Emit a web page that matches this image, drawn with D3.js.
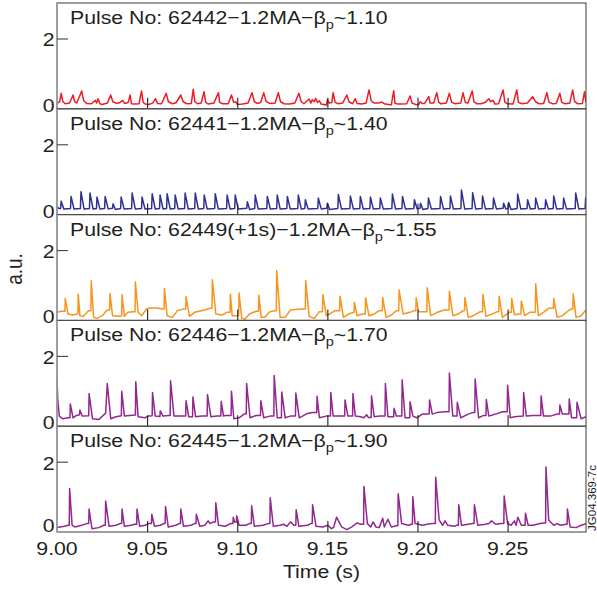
<!DOCTYPE html>
<html><head><meta charset="utf-8">
<script src="https://cdn.jsdelivr.net/npm/d3@7"></script>
<style>
body{margin:0;background:#fff}
svg{display:block}
text{font-family:"Liberation Sans",Arial,Helvetica,sans-serif;fill:#231f20}
</style>
</head><body><svg id="c" width="597" height="590"></svg>
<script>
// ---- data (time in ms after 9.00 s, signal in a.u.) ----
const pulseNames = ["62442","62441","62449(+1s)","62446","62445"];
const betaValues = ["1.10","1.40","1.55","1.70","1.90"];
const xTickValues = [9.00,9.05,9.10,9.15,9.20,9.25];
const yTickValues = [0,2];
const lineColors = ["#ed1c24","#2e3192","#f7941d","#92278f","#92278f"];

const pulse62442 = [[0,0.08],[1.5,0.12],[2.3,0.37],[3.3,0.12],[4.5,0.06],[7,0.08],[8.9,0.32],[9.8,0.12],[11,0.08],[13.7,0.44],[14.8,0.15],[16.5,0.07],[19,0.06],[21.3,0.16],[22,0.08],[22.8,0.21],[23.8,0.06],[25,0.04],[28,0.08],[29.8,0.32],[31,0.12],[33,0.07],[35,0.1],[36.4,0.16],[37.5,0.07],[39.5,0.1],[40.6,0.32],[41.3,0.06],[43,0.05],[45.5,0.06],[46.9,0.44],[47.8,0.1],[49,0.05],[51,0.04],[53,0.08],[54.7,0.21],[55.8,0.07],[58,0.06],[60.6,0.37],[61.8,0.12],[64,0.06],[66,0.09],[68.7,0.32],[70,0.12],[72,0.06],[74.5,0.07],[75.6,0.49],[76.5,0.12],[78,0.06],[80,0.08],[81.6,0.42],[82.5,0.1],[84,0.05],[87,0.08],[89.6,0.39],[90.2,0.1],[92,0.06],[95,0.06],[96.8,0.32],[98,0.1],[99.1,0.12],[100,0.04],[103,0.05],[106,0.08],[108.2,0.39],[109.5,0.12],[111,0.07],[113,0.1],[114.7,0.39],[116,0.13],[118,0.07],[121,0.08],[122.8,0.39],[124,0.12],[126,0.06],[129,0.05],[132,0.08],[134.2,0.37],[135.5,0.12],[137,0.06],[139.9,0.2],[140.8,0.08],[141.6,0.18],[142.7,0.12],[143.5,0.22],[144.5,0.1],[145.6,0.15],[146.5,0.05],[148,0.04],[149.5,0.02],[150,0.18],[151,0.08],[152.5,0.1],[153.2,0.39],[154.3,0.1],[156,0.06],[158.5,0.08],[160.8,0.32],[162,0.12],[164,0.06],[165.5,0.21],[166.5,0.07],[169,0.05],[171.5,0.08],[173.1,0.47],[174.3,0.15],[176,0.08],[178.5,0.08],[180.3,0.11],[181.5,0.06],[184,0.04],[185.5,0.03],[186.8,0.45],[187.5,0.08],[189,0.05],[191,0.05],[194,0.06],[195.9,0.29],[197,0.08],[199,0.04],[200.5,0.03],[201.6,0.12],[202.5,0.07],[204,0.07],[206.3,0.27],[207,0.08],[209,0.08],[210.7,0.39],[211.8,0.1],[213,0.06],[216,0.08],[217.7,0.37],[219,0.1],[221,0.06],[224,0.08],[225.3,0.39],[226.5,0.1],[228,0.08],[230.4,0.44],[231.3,0.12],[233,0.06],[235,0.06],[237.5,0.1],[239.6,0.21],[240.5,0.12],[242,0.16],[243,0.05],[245,0.06],[247.5,0.47],[248.5,0.1],[250,0.06],[253,0.05],[255.1,0.47],[256,0.1],[258,0.06],[261,0.08],[263.9,0.27],[265.5,0.12],[267.5,0.06],[270,0.07],[271.8,0.39],[273,0.1],[275,0.06],[277,0.07],[279,0.37],[280,0.1],[282,0.06],[284.5,0.08],[286.1,0.47],[287.2,0.12],[289,0.06],[291.5,0.07],[292.7,0.42],[293.5,0.1]];

const pulse62441 = [[0,0.15],[1.0,0.09],[2.0,0.09],[2.3,0.31],[3.8,0.08],[7.5,0.09],[7.8,0.45],[9.4,0.08],[13.0,0.09],[13.3,0.59],[15.0,0.08],[18.0,0.09],[18.3,0.55],[20.0,0.08],[21.9,0.09],[22.2,0.43],[23.8,0.08],[26.4,0.09],[26.7,0.45],[28.4,0.08],[30.8,0.1],[31.1,0.23],[32.4,0.06],[35.3,0.09],[35.6,0.43],[37.2,0.08],[41.4,0.09],[41.7,0.55],[43.4,0.08],[46.9,0.09],[47.2,0.43],[48.8,0.08],[52.5,0.09],[52.8,0.53],[54.5,0.08],[56.9,0.09],[57.2,0.49],[58.8,0.08],[60.8,0.09],[61.1,0.53],[62.8,0.08],[65.3,0.09],[65.6,0.49],[67.2,0.08],[70.8,0.09],[71.1,0.55],[72.8,0.08],[76.4,0.09],[76.7,0.55],[78.4,0.08],[81.4,0.09],[81.7,0.49],[83.3,0.08],[87.5,0.09],[87.8,0.53],[89.5,0.08],[94.1,0.09],[94.4,0.49],[96.0,0.08],[98.6,0.09],[98.9,0.49],[100.5,0.08],[105.3,0.1],[105.6,0.29],[106.9,0.06],[109.7,0.09],[110.0,0.49],[111.6,0.08],[116.4,0.09],[116.7,0.45],[118.3,0.08],[121.9,0.09],[122.2,0.49],[123.8,0.08],[127.5,0.09],[127.8,0.45],[129.4,0.08],[133.6,0.09],[133.9,0.49],[135.5,0.08],[137.5,0.09],[137.8,0.35],[139.3,0.08],[144.7,0.09],[145.0,0.40],[146.6,0.08],[149.7,0.1],[150.0,0.25],[151.3,0.06],[155.8,0.09],[156.1,0.51],[157.8,0.08],[162.5,0.09],[162.8,0.46],[164.4,0.08],[168.0,0.09],[168.3,0.45],[169.9,0.08],[173.6,0.09],[173.9,0.43],[175.5,0.08],[179.1,0.09],[179.4,0.40],[181.0,0.08],[185.8,0.09],[186.1,0.52],[187.8,0.08],[191.4,0.09],[191.7,0.45],[193.3,0.08],[198.0,0.09],[198.3,0.35],[199.8,0.08],[201.4,0.1],[201.7,0.25],[203.0,0.06],[205.8,0.09],[206.1,0.40],[207.7,0.08],[212.5,0.09],[212.8,0.45],[214.4,0.08],[218.0,0.09],[218.3,0.46],[219.9,0.08],[224.1,0.09],[224.4,0.64],[226.2,0.08],[230.3,0.09],[230.6,0.56],[232.3,0.08],[235.8,0.09],[236.1,0.46],[237.7,0.08],[241.9,0.09],[242.2,0.40],[243.8,0.08],[247.5,0.1],[247.8,0.25],[249.0,0.08],[250.3,0.09],[250.6,0.27],[251.9,0.06],[255.3,0.09],[255.6,0.52],[257.3,0.08],[260.8,0.09],[261.1,0.35],[262.6,0.08],[265.3,0.09],[265.6,0.40],[267.2,0.08],[270.8,0.09],[271.1,0.35],[272.6,0.08],[275.3,0.09],[275.6,0.46],[277.2,0.08],[280.8,0.09],[281.1,0.40],[282.7,0.08],[287.5,0.09],[287.8,0.55],[289.5,0.08],[293.0,0.09],[293.3,0.40],[293.6,0.3]];

const pulse62449 = [[0,0.15],[2.3,0.18],[4.4,0.18],[4.6,0.56],[6.1,0.10],[8.9,0.07],[11.6,0.1],[11.8,0.69],[12.7,0.05],[14.6,0.03],[17.5,0.20],[18.8,0.2],[19.0,1.09],[20.3,0.0],[22.2,-0.03],[25.1,0.05],[27.9,0.22],[29.2,0.22],[29.4,0.71],[30.8,0.05],[34.5,0.03],[35.9,0.04],[36.1,0.68],[37.4,0.03],[39.3,0.15],[42.1,0.17],[43.3,0.17],[43.5,1.05],[45.0,0.15],[46.9,0.05],[49.7,0.25],[51.6,0.28],[55.4,0.28],[58.3,0.25],[59.4,0.25],[59.6,0.86],[61.1,0.05],[64.0,0.0],[66.8,0.2],[70.2,0.25],[71.4,0.25],[71.6,0.61],[73.5,0.03],[76.3,0.15],[82.0,0.22],[84.9,0.27],[86.0,0.27],[86.2,1.12],[88.1,0.10],[91.5,0.07],[94.3,0.15],[96.0,0.15],[96.2,0.69],[97.2,0.05],[100.0,0.05],[100.8,0.05],[101.0,0.73],[102.5,-0.03],[104.4,-0.05],[106.7,0.10],[110.5,0.18],[111.8,0.18],[112.0,0.66],[113.3,0.0],[115.2,0.0],[118.1,0.17],[120.9,0.20],[121.7,0.2],[121.9,1.39],[123.8,0.0],[126.6,0.0],[129.5,0.22],[135.2,0.25],[137.8,0.25],[138.0,1.09],[139.9,0.03],[142.8,-0.03],[145.6,0.17],[147.3,0.17],[147.5,0.68],[149.4,0.05],[151.3,0.10],[154.1,0.20],[156.8,0.2],[157.0,0.63],[158.9,0.0],[161.7,0.10],[164.8,0.15],[165.0,0.45],[166.5,0.05],[169.3,0.10],[171.0,0.1],[171.2,0.58],[173.1,0.05],[175.9,0.10],[178.8,0.20],[180.5,0.2],[180.7,0.59],[182.6,0.0],[185.5,0.07],[188.3,0.20],[189.6,0.2],[189.8,0.81],[192.1,0.10],[195.9,0.15],[198.2,0.20],[199.1,0.2],[199.3,0.58],[200.6,0.17],[203.5,0.17],[205.2,0.17],[205.4,0.88],[207.3,0.05],[211.1,0.15],[214.9,0.22],[216.8,0.22],[217.5,0.22],[217.7,0.78],[219.6,0.05],[222.5,0.10],[225.3,0.20],[226.1,0.2],[226.3,0.59],[228.2,0.0],[231.0,0.05],[234.8,0.17],[236.1,0.17],[236.3,0.69],[238.0,0.03],[241.5,0.10],[244.3,0.17],[245.1,0.17],[245.3,0.63],[247.1,0.0],[250.9,0.15],[252.1,0.15],[252.3,0.56],[253.8,0.08],[256.6,0.10],[257.4,0.1],[257.6,0.48],[259.5,0.05],[262.3,0.15],[264.2,0.15],[265.4,0.15],[265.6,1.0],[267.1,0.05],[269.9,0.15],[272.8,0.27],[275.4,0.27],[275.6,0.56],[277.5,0.0],[280.4,0.05],[284.2,0.22],[285.5,0.25],[286.2,0.25],[286.4,0.70],[288.0,0.0],[290.8,0.05],[293.5,0.23]];

const pulse62446 = [[0,1.34],[0.4,0.72],[1.3,0.21],[3.2,0.13],[6.1,0.16],[7.2,0.16],[7.4,0.57],[8.9,0.16],[10.8,0.23],[12.5,0.25],[12.7,0.39],[14.0,0.21],[17.6,0.22],[17.8,0.88],[19.7,0.13],[23.2,0.11],[27.0,0.30],[27.9,1.18],[29.8,0.13],[32.7,0.19],[35.7,0.22],[35.9,0.95],[37.4,0.21],[40.2,0.23],[43.5,0.24],[43.7,1.23],[45.0,0.19],[48.8,0.16],[50.7,0.21],[52.8,0.22],[53.0,0.91],[54.5,0.21],[57.1,0.2],[57.3,0.37],[58.8,0.21],[62.1,0.23],[62.8,0.23],[63.0,1.26],[64.9,0.21],[68.7,0.21],[71.4,0.21],[71.6,0.67],[73.1,0.19],[75.2,0.19],[75.4,0.78],[76.9,0.19],[80.1,0.21],[83.3,0.21],[83.5,0.85],[85.4,0.19],[88.6,0.21],[90.9,0.21],[91.1,0.65],[92.4,0.21],[93.4,0.23],[96.6,0.23],[96.8,0.95],[98.1,0.13],[101.0,0.16],[103.8,0.27],[105.0,0.27],[105.2,1.18],[107.1,0.16],[110.5,0.23],[112.9,0.23],[113.1,0.67],[114.7,0.16],[118.1,0.21],[120.3,0.21],[120.5,1.42],[122.2,0.16],[124.5,0.16],[124.7,0.93],[126.6,0.16],[129.5,0.21],[132.3,0.21],[132.5,0.90],[134.4,0.16],[139.0,0.29],[141.8,0.32],[144.1,0.32],[144.3,0.80],[145.6,0.16],[149.4,0.21],[151.7,0.21],[151.9,0.91],[153.2,0.21],[156.0,0.21],[159.6,0.21],[159.8,0.69],[161.4,0.21],[164.0,0.21],[164.2,0.88],[165.5,0.21],[168.4,0.19],[170.3,0.16],[171.8,0.25],[172.7,0.17],[174.3,0.17],[174.5,0.81],[176.0,0.19],[178.8,0.21],[182.0,0.21],[182.2,1.18],[183.6,0.19],[186.8,0.19],[187.0,0.44],[188.3,0.21],[191.3,0.21],[191.5,1.29],[193.1,0.16],[195.7,0.16],[195.9,0.64],[197.4,0.21],[199.7,0.16],[202.6,0.27],[206.5,0.27],[206.7,0.69],[208.2,0.27],[211.1,0.32],[214.9,0.34],[217.5,0.34],[217.7,1.49],[219.6,0.21],[221.9,0.21],[222.1,0.62],[224.0,0.16],[228.2,0.27],[231.0,0.32],[231.8,0.32],[232.0,1.31],[233.9,0.16],[236.7,0.23],[238.0,0.23],[238.2,0.70],[239.6,0.21],[243.4,0.27],[247.2,0.34],[249.8,0.34],[250.0,1.13],[251.5,0.16],[253.8,0.19],[258.7,0.21],[258.9,0.91],[260.4,0.21],[264.2,0.23],[268.4,0.23],[268.6,0.81],[269.9,0.21],[273.7,0.21],[277.5,0.27],[278.8,0.27],[279.0,0.54],[280.4,0.27],[284.0,0.27],[284.2,0.72],[285.5,0.16],[288.3,0.16],[288.5,0.62],[290.8,0.13],[293.5,0.19]];

const pulse62445 = [[0,0.04],[4.2,0.08],[6.1,0.11],[6.8,0.11],[7.0,1.20],[8.4,0.11],[9.9,0.06],[13.7,0.11],[16.5,0.16],[17.6,0.16],[17.8,0.59],[19.4,0.01],[23.2,0.04],[26.0,0.11],[26.8,0.11],[27.0,0.83],[28.9,0.08],[32.7,0.11],[34.9,0.16],[35.9,0.16],[36.1,0.59],[37.4,0.08],[41.1,0.11],[43.1,0.14],[44.2,0.14],[44.4,0.59],[45.9,0.08],[48.8,0.11],[50.7,0.16],[52.4,0.16],[52.6,0.44],[54.1,0.08],[57.3,0.11],[59.2,0.16],[60.0,0.16],[60.2,0.67],[61.7,0.06],[65.9,0.11],[67.8,0.16],[68.5,0.16],[68.7,0.59],[70.2,0.08],[74.4,0.11],[76.3,0.16],[77.1,0.16],[77.3,0.44],[79.2,0.08],[82.0,0.11],[83.9,0.24],[84.9,0.16],[86.8,0.21],[87.9,0.21],[88.1,0.78],[89.6,0.11],[93.4,0.08],[96.2,0.16],[97.6,0.16],[97.8,0.35],[98.5,0.21],[99.5,0.21],[99.7,0.39],[101.0,0.11],[104.8,0.11],[106.7,0.16],[107.8,0.16],[108.0,0.69],[109.5,0.08],[114.3,0.11],[117.1,0.16],[118.1,0.16],[118.3,0.93],[120.0,0.08],[123.8,0.11],[125.7,0.14],[127.6,0.08],[129.5,0.21],[131.4,0.11],[132.5,0.11],[132.7,0.57],[134.2,0.08],[139.0,0.11],[140.9,0.16],[141.6,0.16],[141.8,0.72],[143.7,0.08],[147.5,0.06],[150.3,0.11],[152.2,0.01],[153.5,0.05],[155.1,0.35],[157.9,0.06],[160.8,-0.02],[163.6,0.06],[165.5,0.14],[166.5,0.18],[168.4,0.14],[170.1,0.14],[170.3,1.26],[172.2,0.16],[174.1,0.06],[175.4,0.21],[176.9,0.06],[178.8,0.04],[180.7,0.32],[181.6,0.06],[183.6,0.29],[185.5,0.06],[189.1,0.1],[189.3,1.05],[191.2,0.16],[194.9,0.11],[196.8,0.14],[197.2,0.14],[197.4,0.96],[198.7,0.16],[200.6,0.14],[202.5,0.11],[205.4,0.14],[208.2,0.16],[209.9,0.16],[210.1,1.54],[212.0,0.27],[213.9,0.11],[215.3,0.24],[216.8,0.11],[220.6,0.08],[221.5,0.11],[222.7,0.11],[222.9,0.72],[224.4,0.11],[228.2,0.14],[230.4,0.16],[231.4,0.16],[231.6,0.72],[233.5,0.11],[237.7,0.14],[239.6,0.16],[241.1,0.24],[243.4,0.14],[246.2,0.16],[247.9,0.16],[248.1,0.98],[250.0,0.16],[251.9,0.11],[253.8,0.24],[254.7,0.11],[255.7,0.35],[257.6,0.11],[259.7,0.11],[259.9,0.47],[261.4,0.11],[264.2,0.11],[268.0,0.16],[269.9,0.18],[271.1,0.18],[271.3,1.84],[272.8,0.27],[275.6,0.11],[277.5,0.16],[279.4,0.11],[282.3,0.14],[283.0,0.14],[283.2,0.59],[284.7,0.06],[288.0,0.04],[290.8,0.11],[293.5,0.16]];

const seriesList = [pulse62442, pulse62441, pulse62449, pulse62446, pulse62445];

// ---- layout ----
const left = 57, right = 586, top0 = 3, panelH = 105.8;
const fs = 19, sx = 1.12;

const svg = d3.select("#c");
const x = d3.scaleLinear().domain([9.0, 9.2935]).range([left, right]);

function stretchedText(g, px, py, str, anchor) {
  return g.append("text")
    .attr("transform", `translate(${px},${py}) scale(${sx},1)`)
    .attr("text-anchor", anchor || "start")
    .attr("font-size", fs)
    .text(str);
}

seriesList.forEach((data, i) => {
  const pt = top0 + i * panelH, pb = pt + panelH;
  const y = d3.scaleLinear().domain([-0.09, 3.055]).range([pb, pt]);
  const g = svg.append("g");

  g.append("clipPath").attr("id", "clip" + i)
    .append("rect").attr("x", left).attr("y", pt).attr("width", right - left).attr("height", panelH);

  const line = d3.line().x(d => x(9 + d[0] / 1000)).y(d => y(d[1]));
  g.append("path").datum(data)
    .attr("clip-path", `url(#clip${i})`)
    .attr("fill", "none").attr("stroke", lineColors[i])
    .attr("stroke-width", 1.5).attr("stroke-linejoin", "round")
    .attr("d", line);

  // frame
  g.append("rect").attr("x", left).attr("y", pt).attr("width", right - left).attr("height", panelH)
    .attr("fill", "none").attr("stroke", "#4d4d4f").attr("stroke-width", 1.1);
  g.append("line").attr("x1", left).attr("x2", left).attr("y1", pt).attr("y2", pb)
    .attr("stroke", "#9d9fa2").attr("stroke-width", 1.6);

  // y axis (inward ticks)
  const yAxis = d3.axisRight(y).tickValues(yTickValues.filter(v => v > 0)).tickSize(11).tickFormat("");
  const ya = g.append("g").attr("transform", `translate(${left},0)`).call(yAxis);
  ya.select(".domain").remove();
  ya.selectAll("line").attr("stroke", "#414042").attr("stroke-width", 1.1);
  yTickValues.forEach(v => {
    const off = v === 0 ? (i === 4 ? 3.5 : 6) : 8;
    stretchedText(g, left - 2.5, y(v) + off, String(v), "end");
  });

  // x axis ticks (inward, from bottom)
  const xAxis = d3.axisTop(x).tickValues(xTickValues.slice(1)).tickSize(11).tickFormat("");
  const xa = g.append("g").attr("transform", `translate(0,${pb})`).call(xAxis);
  xa.select(".domain").remove();
  xa.selectAll("line").attr("stroke", "#231f20").attr("stroke-width", 1.1);

  // title
  const t = g.append("text")
    .attr("transform", `translate(70,${pt + 21}) scale(${sx},1)`)
    .attr("font-size", fs);
  t.append("tspan").text(`Pulse No: ${pulseNames[i]}\u22121.2MA\u2212\u03b2`);
  t.append("tspan").attr("font-size", 13).attr("dy", 5).text("p");
  t.append("tspan").attr("dy", -5).text(`~${betaValues[i]}`);
});

// x tick labels
xTickValues.forEach(v => {
  stretchedText(svg, x(v), 555, v.toFixed(2), "middle");
});
stretchedText(svg, (left + right) / 2, 578, "Time (s)", "middle");

// y label
svg.append("text")
  .attr("transform", `translate(22,269) rotate(-90) scale(1,${sx})`)
  .attr("text-anchor", "middle").attr("font-size", fs).text("a.u.");

// figure id
svg.append("text")
  .attr("transform", `translate(596,498) rotate(-90)`)
  .attr("text-anchor", "middle").attr("font-size", 11.5).text("JG04.369-7c");
</script>
</body></html>
